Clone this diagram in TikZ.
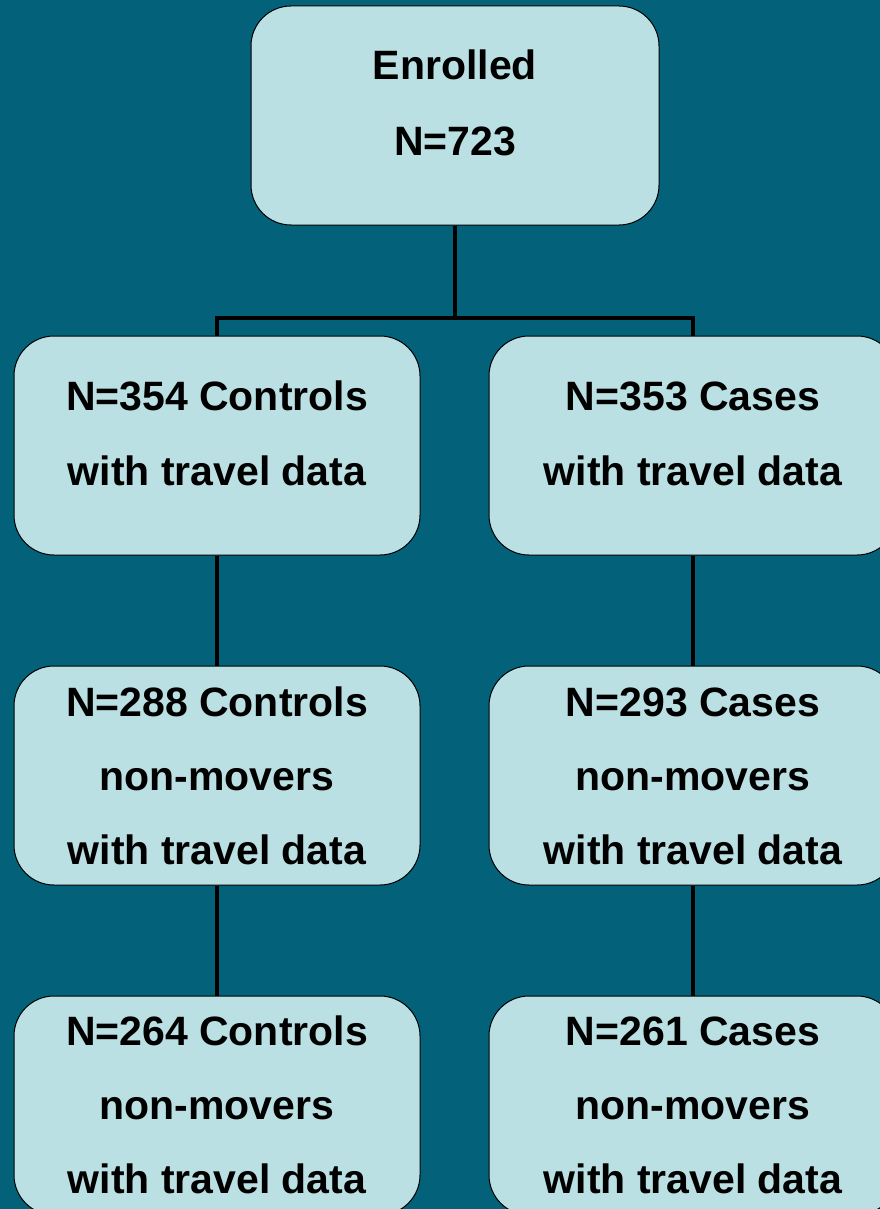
\documentclass[tikz,border=0pt]{standalone}
\usepackage{fontspec}
\setmainfont{Liberation Sans}
\definecolor{bgc}{HTML}{03617A}
\definecolor{boxc}{HTML}{BBE0E3}
\begin{document}
\begin{tikzpicture}[x=1pt,y=-1pt,
  box/.style={draw=black,line width=1pt,fill=boxc,rounded corners=40pt,minimum width=406pt,minimum height=219pt,inner sep=0pt},
  txt/.style={anchor=base,inner sep=0pt,font=\fontsize{41}{48}\selectfont\bfseries,text=black},
  conn/.style={draw=black,line width=4pt}]
\useasboundingbox (0,0) rectangle (880,1209);
\fill[bgc] (0,0) rectangle (880,1209);
\clip (0,0) rectangle (880,1209);
\node[box,minimum width=408pt] (top) at (455,115.5) {};
\node[box] (l2) at (217,445.5) {};
\node[box,minimum width=408pt] (r2) at (693,445.5) {};
\node[box] (l3) at (217,775.5) {};
\node[box,minimum width=408pt] (r3) at (693,775.5) {};
\node[box] (l4) at (217,1105.5) {};
\node[box,minimum width=408pt] (r4) at (693,1105.5) {};
\coordinate (j) at (455,318);
\draw[conn] (top.south) -- (j);
\draw[conn] (j) -| (l2.north);
\draw[conn] (j) -| (r2.north);
\draw[conn] (l2.south) -- (l3.north);
\draw[conn] (r2.south) -- (r3.north);
\draw[conn] (l3.south) -- (l4.north);
\draw[conn] (r3.south) -- (r4.north);
\node[txt] (t1a) at (455,80) {Enrolled};
\node[txt] (t1b) at (455,156) {N=723};
\node[txt] (t2a) at (217,410) {N=354 Controls};
\node[txt] (t2b) at (217,485) {with travel data};
\node[txt] (t3a) at (693,410) {N=353 Cases};
\node[txt] (t3b) at (693,485) {with travel data};
\node[txt] (t4a) at (217,716) {N=288 Controls};
\node[txt] (t4b) at (217,790) {non-movers};
\node[txt] (t4c) at (217,864) {with travel data};
\node[txt] (t5a) at (693,716) {N=293 Cases};
\node[txt] (t5b) at (693,790) {non-movers};
\node[txt] (t5c) at (693,864) {with travel data};
\node[txt] (t6a) at (217,1045) {N=264 Controls};
\node[txt] (t6b) at (217,1119) {non-movers};
\node[txt] (t6c) at (217,1193) {with travel data};
\node[txt] (t7a) at (693,1045) {N=261 Cases};
\node[txt] (t7b) at (693,1119) {non-movers};
\node[txt] (t7c) at (693,1193) {with travel data};
\end{tikzpicture}
\end{document}
